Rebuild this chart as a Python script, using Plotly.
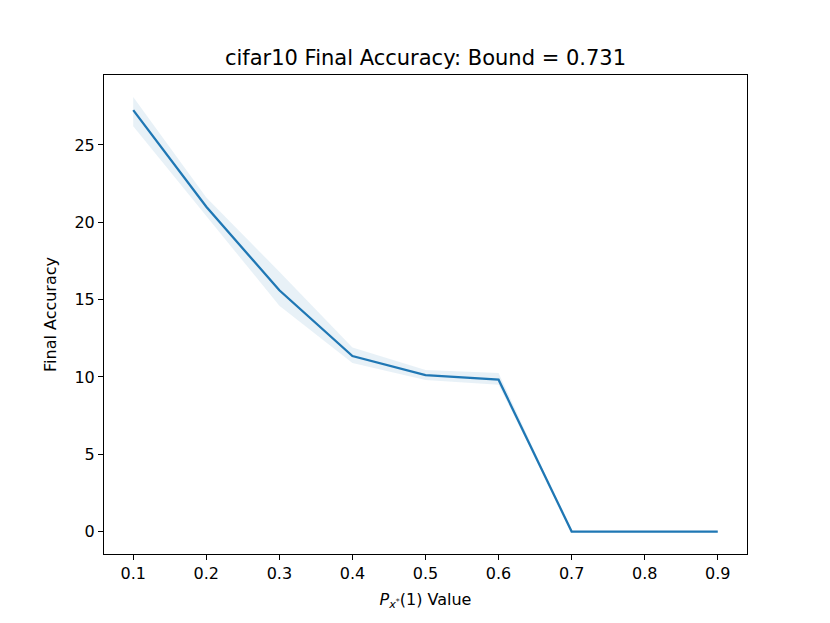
import plotly.graph_objects as go

x_vals = [0.1, 0.2, 0.3, 0.4, 0.5, 0.6, 0.7, 0.8, 0.9]
mean_acc = [27.25, 21.0, 15.6, 11.35, 10.12, 9.82, 0.0, 0.0, 0.0]
upper_acc = [28.1, 21.6, 16.8, 11.9, 10.45, 10.25, 0.0, 0.0, 0.0]
lower_acc = [26.2, 20.4, 14.6, 10.9, 9.8, 9.5, 0.0, 0.0, 0.0]
x_ticks = [0.1, 0.2, 0.3, 0.4, 0.5, 0.6, 0.7, 0.8, 0.9]
y_ticks = [0, 5, 10, 15, 20, 25]

fig = go.Figure()
fig.add_trace(go.Scatter(x=x_vals, y=upper_acc, mode="lines", line=dict(width=0),
                         showlegend=False, hoverinfo="skip"))
fig.add_trace(go.Scatter(x=x_vals, y=lower_acc, mode="lines", line=dict(width=0),
                         fill="tonexty", fillcolor="rgba(31,119,180,0.1)",
                         showlegend=False, hoverinfo="skip"))
fig.add_trace(go.Scatter(x=x_vals, y=mean_acc, mode="lines",
                         line=dict(color="#1f77b4", width=2.3), showlegend=False))

font_family = "DejaVu Sans"
H = 623
fig.update_layout(
    width=830, height=H, autosize=False,
    margin=dict(l=96, r=91, t=67, b=77),
    paper_bgcolor="white", plot_bgcolor="white",
    font=dict(family=font_family, color="black", size=16),
    title=dict(text="cifar10 Final Accuracy: Bound = 0.731", x=(425.5 - 8) / 830, xanchor="center",
               y=1 - 50 / H, yanchor="middle", font=dict(size=21, family=font_family)),
    xaxis=dict(range=[0.06, 0.94], tickvals=x_ticks, ticktext=[f"{v:.1f}" for v in x_ticks],
               showgrid=False, zeroline=False, showline=True, mirror=True,
               linecolor="black", linewidth=1, ticks="outside", ticklen=5, tickcolor="black",
               tickfont=dict(size=16),
               title=dict(text="<i>P</i><sub><i>x</i><sup>*</sup></sub>(1) Value",
                          font=dict(size=16), standoff=11)),
    yaxis=dict(range=[-1.45, 29.52], tickvals=y_ticks,
               showgrid=False, zeroline=False, showline=True, mirror=True,
               linecolor="black", linewidth=1, ticks="outside", ticklen=5, tickcolor="black",
               tickfont=dict(size=16),
               title=dict(text="Final Accuracy", font=dict(size=16), standoff=13)),
)

fig.write_html("out.html")
